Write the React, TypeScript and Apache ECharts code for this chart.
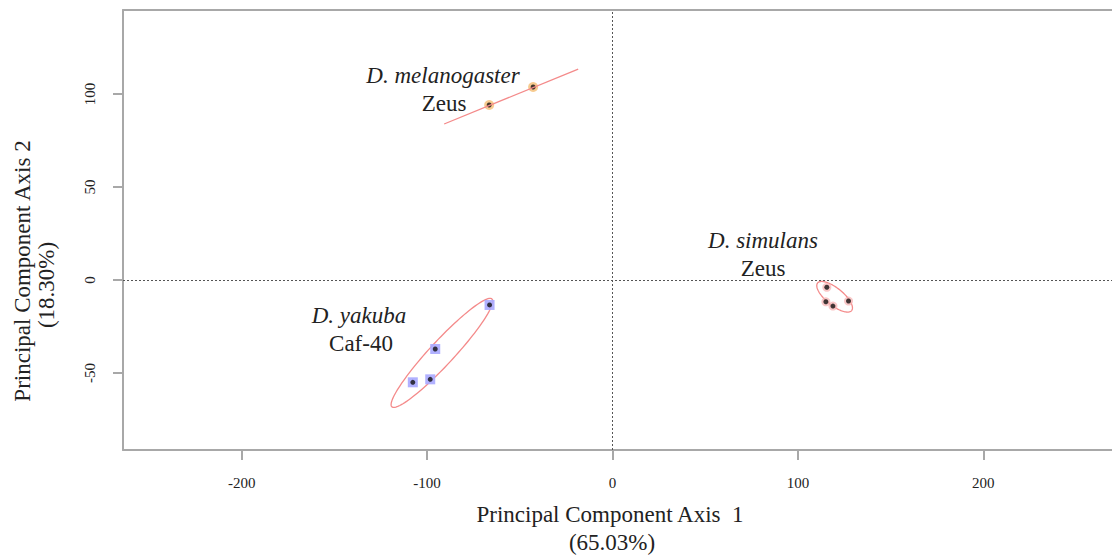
import React, { useEffect, useRef } from "react";
import * as echarts from "echarts";

const xTicks = [-200, -100, 0, 100, 200];
const yTicks = [-50, 0, 50, 100];

const melanogasterPoints = [[-66.5, 94.1], [-42.8, 103.8]];
const simulansPoints = [[115.6, -3.9], [115.1, -11.7], [118.9, -14.0], [127.3, -11.3]];
const yakubaPoints = [[-66.3, -13.4], [-95.6, -37.1], [-98.3, -53.4], [-107.7, -55.0]];

// two-sample group: degenerate ellipse drawn as a segment
const melanogasterLine = [[-90.8, 83.9], [-18.5, 113.4]];
// ellipses: [centerX, centerY, majorHalfX, majorHalfY, minorHalfX, minorHalfY]
const groupEllipses = [
  [-92, -39.2, 27, 29, 4.74, -4.39],
  [119.8, -9.0, 9.0, -3.6, -3.4, 7.4],
];

const SERIF = "'Liberation Serif', 'Times New Roman', serif";
const AXIS_GREY = "#a8a8a8";
const ELLIPSE_RED = "#f48a8a";

export default function App() {
  const ref = useRef<HTMLDivElement>(null);
  useEffect(() => {
    if (!ref.current) return;
    const chart = echarts.init(ref.current, null, { renderer: "svg" });
    const tickLabel = { fontFamily: SERIF, fontSize: 15, color: "#222" };
    chart.setOption({
      animation: false,
      grid: { left: 123, top: 10, right: 0, bottom: 107, containLabel: false },
      xAxis: [
        {
          type: "value",
          min: -264,
          max: 269.4,
          position: "bottom",
          splitLine: { show: false },
          axisLine: { show: true, onZero: false, lineStyle: { color: AXIS_GREY, width: 2 } },
          axisTick: { show: true, length: 10, customValues: xTicks, lineStyle: { color: AXIS_GREY, width: 2 } },
          axisLabel: { ...tickLabel, margin: 25, customValues: xTicks },
        },
        {
          type: "value",
          min: -264,
          max: 269.4,
          position: "top",
          splitLine: { show: false },
          axisLine: { show: true, onZero: false, lineStyle: { color: AXIS_GREY, width: 2 } },
          axisTick: { show: false },
          axisLabel: { show: false },
        },
      ],
      yAxis: {
        type: "value",
        min: -91.4,
        max: 145.2,
        splitLine: { show: false },
        axisLine: { show: true, onZero: false, lineStyle: { color: AXIS_GREY, width: 2 } },
        axisTick: { show: true, length: 10, customValues: yTicks, lineStyle: { color: AXIS_GREY, width: 2 } },
        axisLabel: { ...tickLabel, margin: 26, rotate: 90, customValues: yTicks },
      },
      series: [
        {
          type: "line",
          data: melanogasterLine,
          symbol: "none",
          lineStyle: { color: ELLIPSE_RED, width: 1.3 },
          silent: true,
          markLine: {
            silent: true,
            symbol: ["none", "none"],
            label: { show: false },
            lineStyle: { color: "#555", width: 1, type: [2, 2] },
            data: [{ xAxis: 0 }, { yAxis: 0 }],
          },
        },
        {
          type: "custom",
          data: groupEllipses,
          silent: true,
          renderItem: (params: any, api: any) => {
            const cx = api.value(0), cy = api.value(1);
            const ux = api.value(2), uy = api.value(3);
            const vx = api.value(4), vy = api.value(5);
            const pts: number[][] = [];
            const n = 120;
            for (let i = 0; i <= n; i++) {
              const t = (i / n) * Math.PI * 2;
              pts.push(api.coord([cx + ux * Math.cos(t) + vx * Math.sin(t), cy + uy * Math.cos(t) + vy * Math.sin(t)]));
            }
            return {
              type: "polyline",
              shape: { points: pts },
              style: { fill: "none", stroke: ELLIPSE_RED, lineWidth: 1.3 },
            };
          },
        },
        { type: "scatter", data: melanogasterPoints, symbol: "circle", symbolSize: 10, itemStyle: { color: "#f6c27c", opacity: 0.85 } },
        { type: "scatter", data: yakubaPoints, symbol: "rect", symbolSize: 10, itemStyle: { color: "#a9a9ff", opacity: 0.9 } },
        { type: "scatter", data: simulansPoints, symbol: "circle", symbolSize: 9, itemStyle: { color: "#f6b0b0", opacity: 0.7 } },
        { type: "scatter", data: melanogasterPoints, symbol: "circle", symbolSize: 5, itemStyle: { color: "#111" } },
        { type: "scatter", data: yakubaPoints, symbol: "circle", symbolSize: 5, itemStyle: { color: "#111" } },
        { type: "scatter", data: simulansPoints, symbol: "circle", symbolSize: 5, itemStyle: { color: "#111" } },
      ],
      graphic: [
        { type: "text", x: 443, y: 75, style: { text: "D. melanogaster", font: `italic 23px ${SERIF}`, fill: "#222", align: "center", verticalAlign: "middle" } },
        { type: "text", x: 444, y: 103, style: { text: "Zeus", font: `23px ${SERIF}`, fill: "#222", align: "center", verticalAlign: "middle" } },
        { type: "text", x: 763, y: 240, style: { text: "D. simulans", font: `italic 23px ${SERIF}`, fill: "#222", align: "center", verticalAlign: "middle" } },
        { type: "text", x: 763, y: 268, style: { text: "Zeus", font: `23px ${SERIF}`, fill: "#222", align: "center", verticalAlign: "middle" } },
        { type: "text", x: 359, y: 315, style: { text: "D. yakuba", font: `italic 23px ${SERIF}`, fill: "#222", align: "center", verticalAlign: "middle" } },
        { type: "text", x: 361, y: 343, style: { text: "Caf-40", font: `23px ${SERIF}`, fill: "#222", align: "center", verticalAlign: "middle" } },
        { type: "text", x: 610, y: 514, style: { text: "Principal Component Axis  1", font: `23px ${SERIF}`, fill: "#222", align: "center", verticalAlign: "middle" } },
        { type: "text", x: 612, y: 542, style: { text: "(65.03%)", font: `23px ${SERIF}`, fill: "#222", align: "center", verticalAlign: "middle" } },
        { type: "text", x: 22, y: 271, rotation: Math.PI / 2, style: { text: "Principal Component Axis 2", font: `23px ${SERIF}`, fill: "#222", align: "center", verticalAlign: "middle" } },
        { type: "text", x: 46, y: 285, rotation: Math.PI / 2, style: { text: "(18.30%)", font: `23px ${SERIF}`, fill: "#222", align: "center", verticalAlign: "middle" } },
      ],
    });
    return () => chart.dispose();
  }, []);
  return <div ref={ref} style={{ position: "absolute", left: 0, top: 0, width: 1112, height: 557 }} />;
}
